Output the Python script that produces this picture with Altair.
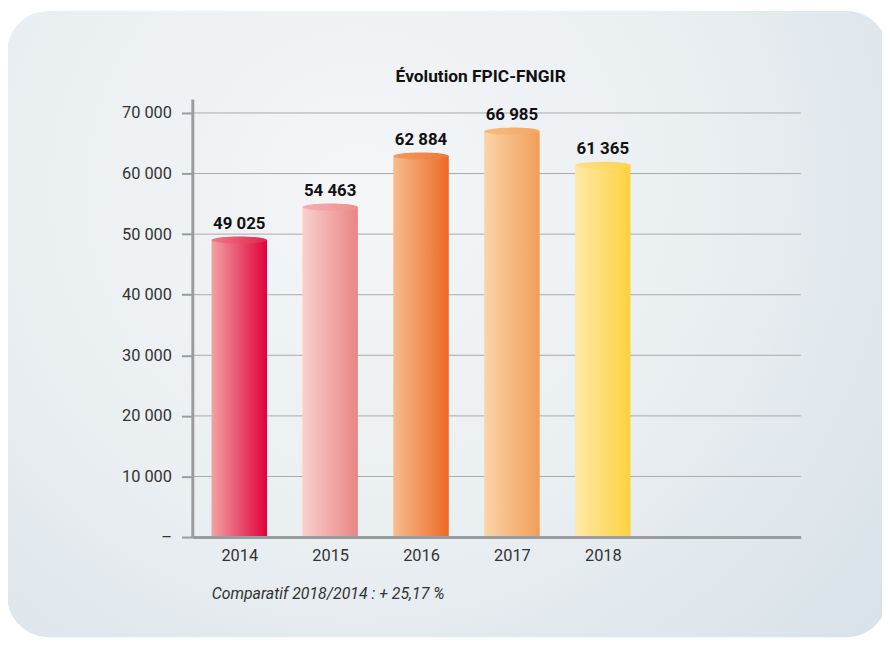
import altair as alt
import pandas as pd

# ---- data ----
years = [2014, 2015, 2016, 2017, 2018]
values = [49025, 54463, 62884, 66985, 61365]
left_colors = ["#f2a3a3", "#f9d0cc", "#f7bd8e", "#fcd4a8", "#fee9a8"]
right_colors = ["#e0003c", "#e98585", "#ec6a26", "#f19e58", "#fdd23e"]
top_left_colors = ["#ee7a86", "#f3b0ad", "#f39a5c", "#f8bb80", "#fde18a"]
top_right_colors = ["#e3234c", "#ec9090", "#ee7838", "#f3a664", "#fdd44a"]
y_ticks = [0, 10000, 20000, 30000, 40000, 50000, 60000, 70000]
title_text = "Évolution FPIC-FNGIR"
footnote = "Comparatif 2018/2014 : + 25,17 %"

labels = [f"{v:,}".replace(",", " ") for v in values]
df = pd.DataFrame({"year": years, "value": values, "label": labels})

W, H = 614, 442
FONT = "Roboto"

x_enc = alt.X(
    "year:Q",
    scale=alt.Scale(domain=[2013.538, 2020.123], nice=False, zero=False),
    axis=alt.Axis(
        values=years, format="d", ticks=False, grid=False,
        domainColor="#9c9c9c", domainWidth=3,
        labelFont=FONT, labelFontSize=16.5, labelColor="#333333", labelPadding=11,
        title=footnote, titleFont=FONT, titleFontSize=16, titleFontStyle="italic",
        titleFontWeight="normal", titleColor="#333333",
        titleAnchor="start", titleAlign="left", titleBaseline="alphabetic",
        titleX=19, titleY=62, zindex=1,
    ),
)
y_enc = alt.Y(
    "value:Q",
    scale=alt.Scale(domain=[0, 72290], nice=False),
    axis=alt.Axis(
        values=y_ticks, grid=False, title=None,
        domainColor="#9c9c9c", domainWidth=3,
        tickColor="#9c9c9c", tickWidth=2, tickSize=11,
        labelFont=FONT, labelFontSize=16.5, labelColor="#333333", labelPadding=10,
        labelExpr="datum.value == 0 ? '–' : replace(format(datum.value, ','), ',', ' ')",
        zindex=1,
    ),
)

# background rounded panel
bg = alt.Chart(pd.DataFrame({"a": [0]})).mark_rect(
    cornerRadius=42,
    fill=alt.Gradient(
        gradient="radial", x1=0.4, y1=0.35, r1=0, x2=0.4, y2=0.35, r2=0.85,
        stops=[alt.GradientStop(color="#f4f6f8", offset=0),
               alt.GradientStop(color="#eaeff2", offset=0.45),
               alt.GradientStop(color="#d4dfe6", offset=1)],
    ),
).encode(
    x=alt.value(-187), x2=alt.value(702), y=alt.value(-89), y2=alt.value(543)
)

title = alt.Chart(pd.DataFrame({"a": [0]})).mark_text(
    font=FONT, fontSize=17.5, fontWeight="bold", color="#111111",
    baseline="alphabetic", align="center",
).encode(x=alt.value(291), y=alt.value(-17), text=alt.value(title_text))

grid = alt.Chart(pd.DataFrame({"value": y_ticks[1:]})).mark_rule(
    color="#a9a9a9", strokeWidth=1
).encode(y=y_enc)

layers = [bg, title, grid]
ellipse = "M -1 0 A 1 0.13 0 1 0 1 0 A 1 0.13 0 1 0 -1 0 Z"
for i, yr in enumerate(years):
    base = alt.Chart(df).transform_filter(alt.datum.year == yr)
    bar = base.mark_bar(
        size=56,
        fill=alt.Gradient(
            gradient="linear", x1=0, y1=0, x2=1, y2=0,
            stops=[alt.GradientStop(color=left_colors[i], offset=0),
                   alt.GradientStop(color=right_colors[i], offset=1)],
        ),
    ).encode(x=x_enc, y=y_enc)
    top = base.mark_point(
        shape=ellipse, size=56 * 56, filled=True, opacity=1, strokeWidth=0,
        fill=alt.Gradient(
            gradient="linear", x1=0, y1=0, x2=1, y2=0,
            stops=[alt.GradientStop(color=top_left_colors[i], offset=0),
                   alt.GradientStop(color=top_right_colors[i], offset=1)],
        ),
    ).encode(x=x_enc, y=y_enc)
    layers += [bar, top]

text = alt.Chart(df).mark_text(
    font=FONT, fontSize=17, fontWeight="bold", color="#111111",
    baseline="alphabetic", dy=-11,
).encode(x=x_enc, y=y_enc, text="label:N")
layers.append(text)

chart = alt.layer(*layers).properties(
    width=W, height=H,
    autosize=alt.AutoSizeParams(type="none"),
    padding={"left": 186, "top": 89, "right": 82, "bottom": 106},
).configure(background="white").configure_view(stroke=None)

chart.save("out.html", embed_options={"renderer": "svg", "actions": False})
